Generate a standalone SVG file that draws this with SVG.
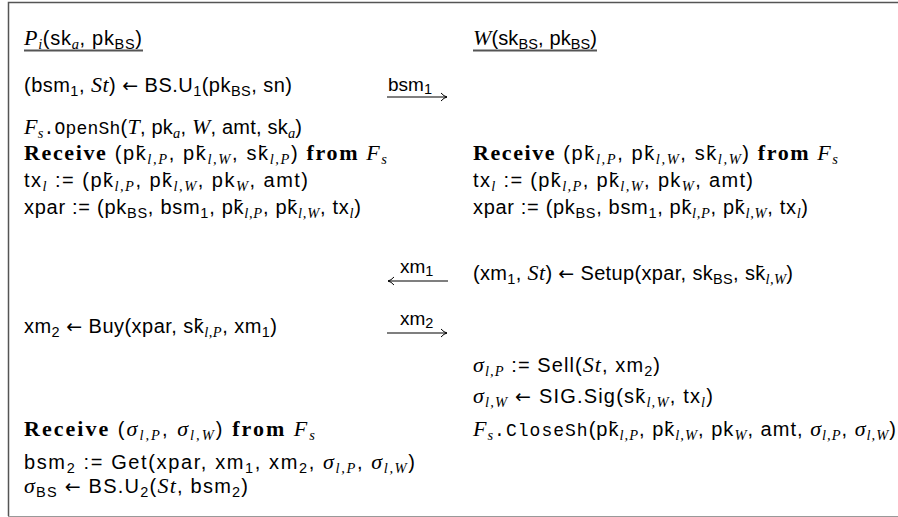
<svg xmlns="http://www.w3.org/2000/svg" width="898" height="517" viewBox="0 0 898 517">
<defs>
<style>
text { font-family: "Liberation Sans", "DejaVu Sans", sans-serif; font-size: 20px; fill: #000; }
.i { font-family: "Liberation Serif", "DejaVu Serif", serif; font-style: italic; font-size: 22px; }
.c { font-family: "Liberation Serif", "DejaVu Serif", serif; font-style: italic; font-size: 22px; }
.b { font-family: "Liberation Serif", "DejaVu Serif", serif; font-weight: bold; font-size: 22px; }
.tt { font-family: "Liberation Mono", "DejaVu Sans Mono", monospace; font-size: 18px; }
.ar { font-family: "DejaVu Sans", sans-serif; font-size: 19px; }
.s { font-size: 14.5px; }
.lbl { font-size: 19px; }
.frame { fill: none; stroke: #555; stroke-width: 1.5; }
.uline { stroke: #555; stroke-width: 1.8; }
.msg { stroke: #000; stroke-width: 1.1; fill: none; }
</style>
<marker id="ah" viewBox="-8 -5 10 10" refX="0" refY="0" markerWidth="10" markerHeight="10" markerUnits="userSpaceOnUse" orient="auto">
<path d="M-6,-4 Q-3,-0.6 0,0 Q-3,0.6 -6,4" fill="none" stroke="#000" stroke-width="1"/>
</marker>
</defs>
<rect width="898" height="517" fill="#fff"/>
<g id="frame">
<path class="frame" d="M898,2.5 H8.5 V516"/>
<line x1="8" y1="516.5" x2="898" y2="516.5" stroke="#999" stroke-width="1"/>
</g>
<g id="party-p">
<text x="24" y="45" textLength="118"><tspan class="c">P</tspan><tspan class="s i" dy="4">i</tspan><tspan dy="-4">(sk</tspan><tspan class="s i" dy="4">a</tspan><tspan dy="-4">, pk</tspan><tspan class="s" dy="4">BS</tspan><tspan dy="-4">)</tspan></text>
<line class="uline" x1="24" y1="50.5" x2="143" y2="50.5"/>
<text x="24" y="92" textLength="268">(bsm<tspan class="s" dy="4">1</tspan><tspan dy="-4">, </tspan><tspan class="i">St</tspan>) <tspan class="ar">←</tspan> BS.U<tspan class="s" dy="4">1</tspan><tspan dy="-4">(pk</tspan><tspan class="s" dy="4">BS</tspan><tspan dy="-4">, sn)</tspan></text>
<text x="24" y="134" textLength="278"><tspan class="c">F</tspan><tspan class="s i" dy="4">s</tspan><tspan class="tt" dy="-4">.OpenSh</tspan>(<tspan class="i">T</tspan>, pk<tspan class="s i" dy="4">a</tspan><tspan dy="-4">, </tspan><tspan class="c">W</tspan>, amt, sk<tspan class="s i" dy="4">a</tspan><tspan dy="-4">)</tspan></text>
<text x="24" y="160" textLength="363"><tspan class="b">Receive</tspan> (pk&#x304;<tspan class="s i" dy="4">l,P</tspan><tspan dy="-4">, pk&#x304;</tspan><tspan class="s i" dy="4">l,W</tspan><tspan dy="-4">, sk&#x304;</tspan><tspan class="s i" dy="4">l,P</tspan><tspan dy="-4">) </tspan><tspan class="b">from</tspan> <tspan class="c">F</tspan><tspan class="s i" dy="4">s</tspan></text>
<text x="24" y="187" textLength="284">tx<tspan class="s i" dy="4">l</tspan><tspan dy="-4"> := (pk&#x304;</tspan><tspan class="s i" dy="4">l,P</tspan><tspan dy="-4">, pk&#x304;</tspan><tspan class="s i" dy="4">l,W</tspan><tspan dy="-4">, pk</tspan><tspan class="s i" dy="4">W</tspan><tspan dy="-4">, amt)</tspan></text>
<text x="24" y="214" textLength="337">xpar := (pk<tspan class="s" dy="4">BS</tspan><tspan dy="-4">, bsm</tspan><tspan class="s" dy="4">1</tspan><tspan dy="-4">, pk&#x304;</tspan><tspan class="s i" dy="4">l,P</tspan><tspan dy="-4">, pk&#x304;</tspan><tspan class="s i" dy="4">l,W</tspan><tspan dy="-4">, tx</tspan><tspan class="s i" dy="4">l</tspan><tspan dy="-4">)</tspan></text>
<text x="24" y="333" textLength="253">xm<tspan class="s" dy="4">2</tspan><tspan dy="-4"> </tspan><tspan class="ar">←</tspan> Buy(xpar, sk&#x304;<tspan class="s i" dy="4">l,P</tspan><tspan dy="-4">, xm</tspan><tspan class="s" dy="4">1</tspan><tspan dy="-4">)</tspan></text>
<text x="24" y="436" textLength="291"><tspan class="b">Receive</tspan> (<tspan class="i">σ</tspan><tspan class="s i" dy="4">l,P</tspan><tspan dy="-4">, </tspan><tspan class="i">σ</tspan><tspan class="s i" dy="4">l,W</tspan><tspan dy="-4">) </tspan><tspan class="b">from</tspan> <tspan class="c">F</tspan><tspan class="s i" dy="4">s</tspan></text>
<text x="24" y="469" textLength="391">bsm<tspan class="s" dy="4">2</tspan><tspan dy="-4"> := Get(xpar, xm</tspan><tspan class="s" dy="4">1</tspan><tspan dy="-4">, xm</tspan><tspan class="s" dy="4">2</tspan><tspan dy="-4">, </tspan><tspan class="i">σ</tspan><tspan class="s i" dy="4">l,P</tspan><tspan dy="-4">, </tspan><tspan class="i">σ</tspan><tspan class="s i" dy="4">l,W</tspan><tspan dy="-4">)</tspan></text>
<text x="24" y="493" textLength="224"><tspan class="i">σ</tspan><tspan class="s" dy="4">BS</tspan><tspan dy="-4"> </tspan><tspan class="ar">←</tspan> BS.U<tspan class="s" dy="4">2</tspan><tspan dy="-4">(</tspan><tspan class="i">St</tspan>, bsm<tspan class="s" dy="4">2</tspan><tspan dy="-4">)</tspan></text>
</g>
<g id="party-w">
<text x="473" y="45" textLength="124"><tspan class="c">W</tspan>(sk<tspan class="s" dy="4">BS</tspan><tspan dy="-4">, pk</tspan><tspan class="s" dy="4">BS</tspan><tspan dy="-4">)</tspan></text>
<line class="uline" x1="473" y1="50.5" x2="597" y2="50.5"/>
<text x="473" y="160" textLength="365"><tspan class="b">Receive</tspan> (pk&#x304;<tspan class="s i" dy="4">l,P</tspan><tspan dy="-4">, pk&#x304;</tspan><tspan class="s i" dy="4">l,W</tspan><tspan dy="-4">, sk&#x304;</tspan><tspan class="s i" dy="4">l,W</tspan><tspan dy="-4">) </tspan><tspan class="b">from</tspan> <tspan class="c">F</tspan><tspan class="s i" dy="4">s</tspan></text>
<text x="473" y="187" textLength="280">tx<tspan class="s i" dy="4">l</tspan><tspan dy="-4"> := (pk&#x304;</tspan><tspan class="s i" dy="4">l,P</tspan><tspan dy="-4">, pk&#x304;</tspan><tspan class="s i" dy="4">l,W</tspan><tspan dy="-4">, pk</tspan><tspan class="s i" dy="4">W</tspan><tspan dy="-4">, amt)</tspan></text>
<text x="473" y="214" textLength="335">xpar := (pk<tspan class="s" dy="4">BS</tspan><tspan dy="-4">, bsm</tspan><tspan class="s" dy="4">1</tspan><tspan dy="-4">, pk&#x304;</tspan><tspan class="s i" dy="4">l,P</tspan><tspan dy="-4">, pk&#x304;</tspan><tspan class="s i" dy="4">l,W</tspan><tspan dy="-4">, tx</tspan><tspan class="s i" dy="4">l</tspan><tspan dy="-4">)</tspan></text>
<text x="473" y="280" textLength="320">(xm<tspan class="s" dy="4">1</tspan><tspan dy="-4">, </tspan><tspan class="i">St</tspan>) <tspan class="ar">←</tspan> Setup(xpar, sk<tspan class="s" dy="4">BS</tspan><tspan dy="-4">, sk&#x304;</tspan><tspan class="s i" dy="4">l,W</tspan><tspan dy="-4">)</tspan></text>
<text x="473" y="372" textLength="187"><tspan class="i">σ</tspan><tspan class="s i" dy="4">l,P</tspan><tspan dy="-4"> := Sell(</tspan><tspan class="i">St</tspan>, xm<tspan class="s" dy="4">2</tspan><tspan dy="-4">)</tspan></text>
<text x="473" y="403" textLength="240"><tspan class="i">σ</tspan><tspan class="s i" dy="4">l,W</tspan><tspan dy="-4"> </tspan><tspan class="ar">←</tspan> SIG.Sig(sk&#x304;<tspan class="s i" dy="4">l,W</tspan><tspan dy="-4">, tx</tspan><tspan class="s i" dy="4">l</tspan><tspan dy="-4">)</tspan></text>
<text x="473" y="436" textLength="423"><tspan class="c">F</tspan><tspan class="s i" dy="4">s</tspan><tspan class="tt" dy="-4">.CloseSh</tspan>(pk&#x304;<tspan class="s i" dy="4">l,P</tspan><tspan dy="-4">, pk&#x304;</tspan><tspan class="s i" dy="4">l,W</tspan><tspan dy="-4">, pk</tspan><tspan class="s i" dy="4">W</tspan><tspan dy="-4">, amt, </tspan><tspan class="i">σ</tspan><tspan class="s i" dy="4">l,P</tspan><tspan dy="-4">, </tspan><tspan class="i">σ</tspan><tspan class="s i" dy="4">l,W</tspan><tspan dy="-4">)</tspan></text>
</g>
<g id="connectors">
<g id="msg-bsm1">
<line class="msg" x1="387" y1="97" x2="447" y2="97" marker-end="url(#ah)"/>
<text class="lbl" x="388" y="91">bsm<tspan class="s" dy="3">1</tspan></text>
</g>
<g id="msg-xm1">
<line class="msg" x1="448" y1="281" x2="388" y2="281" marker-end="url(#ah)"/>
<text class="lbl" x="400" y="273">xm<tspan class="s" dy="3">1</tspan></text>
</g>
<g id="msg-xm2">
<line class="msg" x1="387" y1="333" x2="447" y2="333" marker-end="url(#ah)"/>
<text class="lbl" x="400" y="325">xm<tspan class="s" dy="3">2</tspan></text>
</g>
</g>
</svg>
